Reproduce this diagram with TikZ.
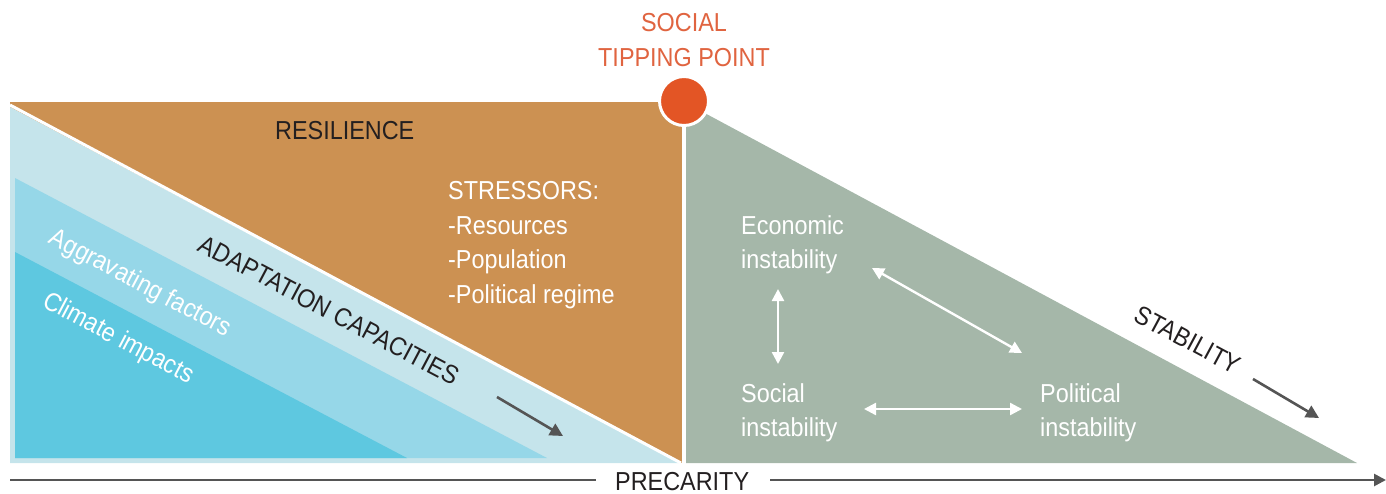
\documentclass[tikz,border=0pt]{standalone}
\usepackage{fontspec}
\setmainfont[FakeStretch=0.9]{Liberation Sans}
\usetikzlibrary{arrows.meta}
\definecolor{brownR}{RGB}{204,145,82}
\definecolor{lightB}{RGB}{197,228,235}
\definecolor{midB}{RGB}{150,215,232}
\definecolor{darkB}{RGB}{94,200,224}
\definecolor{grayG}{RGB}{165,183,169}
\definecolor{orangeC}{RGB}{227,85,37}
\definecolor{orangeT}{RGB}{224,100,64}
\definecolor{darkT}{RGB}{35,31,32}
\definecolor{lineG}{RGB}{85,85,85}
\begin{document}
\begin{tikzpicture}[x=1pt,y=-1pt,
  txt/.style={inner sep=0, anchor=base west, font=\fontsize{26}{30}\selectfont},
  ctxt/.style={inner sep=0, anchor=base, font=\fontsize{26}{30}\selectfont},
  rtxt/.style={inner sep=0, anchor=center, font=\fontsize{26}{30}\selectfont},
  wtxt/.style={txt, text=white},
  darrow/.style={line width=2.6, draw=lineG, -{Triangle[length=13,width=13]}},
  warrow/.style={line width=2.4, draw=white, {Triangle[length=12,width=12]}-{Triangle[length=12,width=12]}},
  axis/.style={line width=2.6, draw=lineG}]
\useasboundingbox (0,0) rectangle (1386,493);
% left panel
\fill[brownR] (10,102) rectangle (682,463);
\fill[lightB] (10,107) -- (681,463) -- (10,463) -- cycle;
\draw[white, line width=3] (10,105) -- (681,463);
\fill[midB] (15,178) -- (547,458) -- (15,458) -- cycle;
\fill[darkB] (15,252) -- (407,458) -- (15,458) -- cycle;
% right panel
\fill[grayG] (686,103) -- (1357,463) -- (686,463) -- cycle;
% tipping point
\node[circle, fill=orangeC, draw=white, line width=3, minimum size=49, inner sep=0] (tp) at (684,101) {};
\node[ctxt, text=orangeT] (tp1) at (684,31) {SOCIAL};
\node[ctxt, text=orangeT] (tp2) at (684,66) {TIPPING POINT};
% left texts
\node[txt, text=darkT] (res) at (275,139.5) {RESILIENCE};
\node[wtxt] (st0) at (448,199.5) {STRESSORS:};
\node[wtxt] (st1) at (448,234) {-Resources};
\node[wtxt] (st2) at (448,268.5) {-Population};
\node[wtxt] (st3) at (448,303) {-Political regime};
\node[rtxt, text=darkT, rotate=-27.9] (adap) at (329,310) {ADAPTATION CAPACITIES};
\node[rtxt, text=white, rotate=-27.9] (aggr) at (140,284) {Aggravating factors};
\node[rtxt, text=white, rotate=-27.9] (clim) at (118,339) {Climate impacts};
\coordinate (a1s) at (497,397);
\coordinate (a1e) at (563,436);
\draw[darrow] (a1s) -- (a1e);
% right texts
\node[wtxt] (eco1) at (741,234) {Economic};
\node[wtxt] (eco2) at (741,268.5) {instability};
\node[wtxt] (soc1) at (741,402) {Social};
\node[wtxt] (soc2) at (741,436.5) {instability};
\node[wtxt] (pol1) at (1040,402) {Political};
\node[wtxt] (pol2) at (1040,436.5) {instability};
\node[rtxt, text=darkT, rotate=-28.2] (stab) at (1188,340) {STABILITY};
\coordinate (a2s) at (1253,379);
\coordinate (a2e) at (1319,418);
\draw[darrow] (a2s) -- (a2e);
% interaction arrows
\coordinate (ev1) at (778,289);
\coordinate (ev2) at (778,364);
\coordinate (ed1) at (872,268);
\coordinate (ed2) at (1022,353);
\coordinate (eh1) at (864,409);
\coordinate (eh2) at (1022,409);
\draw[warrow] (ev1) -- (ev2);
\draw[warrow] (ed1) -- (ed2);
\draw[warrow] (eh1) -- (eh2);
% precarity axis
\node[txt, text=darkT] (prec) at (615,490) {PRECARITY};
\coordinate (pl0) at (10,480);
\coordinate (pl1) at (596,480);
\coordinate (pr0) at (770,480);
\coordinate (pr1) at (1386,480);
\draw[axis] (pl0) -- (pl1);
\draw[axis, -{Triangle[length=12,width=12]}] (pr0) -- (pr1);
\end{tikzpicture}
\end{document}
